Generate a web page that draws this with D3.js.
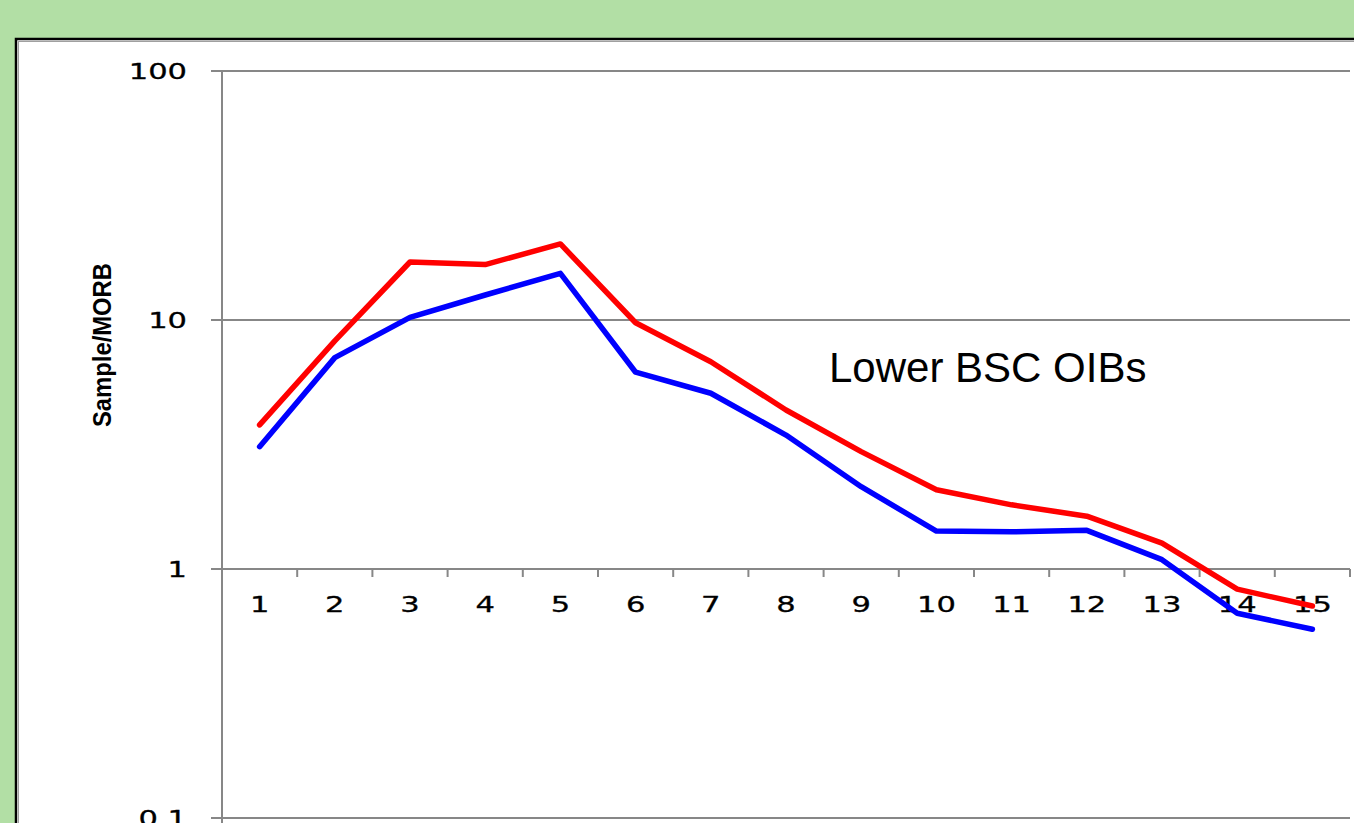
<!DOCTYPE html>
<html>
<head>
<meta charset="utf-8">
<script src="https://cdn.jsdelivr.net/npm/d3@7"></script>
<style>
  html, body { margin: 0; padding: 0; background: #b2dfa5; }
  svg { display: block; }
</style>
</head>
<body>
<svg id="chart" width="1354" height="823"></svg>
<script>
// Elements along the x axis (normalised element order 1..15)
const categories = [1, 2, 3, 4, 5, 6, 7, 8, 9, 10, 11, 12, 13, 14, 15];
// Sample / MORB ratios for the two lower BSC OIB samples
const redSeries  = [3.79, 8.24, 17.1, 16.7, 20.2, 9.75, 6.80, 4.35, 2.96, 2.08, 1.81, 1.63, 1.27, 0.83, 0.71];
const blueSeries = [3.10, 7.06, 10.25, 12.6, 15.4, 6.17, 5.08, 3.45, 2.14, 1.42, 1.41, 1.43, 1.09, 0.664, 0.573];
const yTicks = [0.1, 1, 10, 100];
const yTickLabels = ["0.1", "1", "10", "100"];
const titleText = "Lower BSC OIBs";
const yAxisTitle = "Sample/MORB";

const svg = d3.select("#chart");
const W = 1354, H = 823;

// background and framed plot panel
svg.append("rect").attr("width", W).attr("height", H).attr("fill", "#b2dfa5");
svg.append("rect").attr("x", 16).attr("y", 39).attr("width", 1500).attr("height", 1000)
  .attr("fill", "#ffffff").attr("stroke", "#000000").attr("stroke-width", 2.5);
svg.append("rect").attr("x", 18.5).attr("y", 41.5).attr("width", 1500).attr("height", 1000)
  .attr("fill", "none").attr("stroke", "#a0a0a0").attr("stroke-width", 1);

const x = d3.scaleBand().domain(categories).range([222, 1350]);
const y = d3.scaleLog().domain([0.1, 100]).range([818, 71]);

const gridColor = "#878787";

// horizontal gridlines (value 1 doubles as the category axis)
svg.append("g").selectAll("line").data(yTicks).join("line")
  .attr("x1", 211).attr("x2", 1350)
  .attr("y1", d => y(d)).attr("y2", d => y(d))
  .attr("stroke", gridColor).attr("stroke-width", 2);

// vertical value axis line
svg.append("line").attr("x1", 222).attr("x2", 222).attr("y1", y(100)).attr("y2", 830)
  .attr("stroke", gridColor).attr("stroke-width", 2);

// category tick marks on the value-1 line
const bounds = categories.map(c => x(c) + x.bandwidth());
svg.append("g").selectAll("line").data(bounds).join("line")
  .attr("x1", d => d).attr("x2", d => d)
  .attr("y1", y(1)).attr("y2", y(1) + 8)
  .attr("stroke", gridColor).attr("stroke-width", 2);

// value-axis labels
svg.append("g").selectAll("text").data(yTicks).join("text")
  .attr("transform", d => `translate(187,${y(d) + 7.8}) scale(1.42,1)`)
  .attr("text-anchor", "end")
  .attr("font-family", "DejaVu Sans, Verdana, sans-serif")
  .attr("font-size", 21.5).attr("fill", "#000")
  .attr("stroke", "#000").attr("stroke-width", 0.3)
  .text((d, i) => yTickLabels[i]);

// category labels
svg.append("g").selectAll("text").data(categories).join("text")
  .attr("transform", d => `translate(${x(d) + x.bandwidth() / 2},612) scale(1.42,1)`)
  .attr("text-anchor", "middle")
  .attr("font-family", "DejaVu Sans, Verdana, sans-serif")
  .attr("font-size", 21.5).attr("fill", "#000")
  .attr("stroke", "#000").attr("stroke-width", 0.3)
  .text(d => d);

// data lines
const line = d3.line()
  .x((d, i) => x(categories[i]) + x.bandwidth() / 2)
  .y(d => y(d));

[[redSeries, "#ff0000"], [blueSeries, "#0000ff"]].forEach(([data, col]) => {
  svg.append("path").datum(data)
    .attr("d", line)
    .attr("fill", "none").attr("stroke", col).attr("stroke-width", 5.5)
    .attr("stroke-linejoin", "round").attr("stroke-linecap", "round");
});

// annotation
svg.append("text").attr("x", 829).attr("y", 382)
  .attr("font-family", "Liberation Sans, Arial, sans-serif")
  .attr("font-size", 42).attr("fill", "#000")
  .text(titleText);

// value-axis title
svg.append("text")
  .attr("transform", "translate(111,345) rotate(-90)")
  .attr("text-anchor", "middle")
  .attr("font-family", "Liberation Sans Narrow, Liberation Sans, Arial, sans-serif")
  .attr("font-weight", "bold")
  .attr("font-size", 26)
  .attr("textLength", 164).attr("lengthAdjust", "spacingAndGlyphs")
  .attr("fill", "#000")
  .text(yAxisTitle);
</script>
</body>
</html>
